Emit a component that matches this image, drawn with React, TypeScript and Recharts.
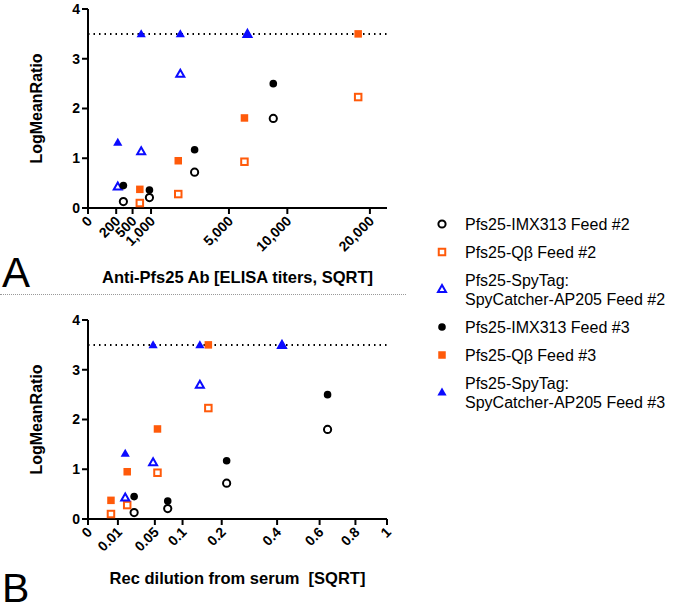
import React from "react";
import { ScatterChart, Scatter, XAxis, YAxis, ReferenceLine } from "recharts";

const FONT = '"Liberation Sans", Arial, sans-serif';
const ORANGE = "#ff5a0a";
const BLUE = "#0b0bff";

// x positions: panel A = ELISA titer, panel B = rec dilution
const imxTiter = [315, 950, 2860, 8640];
const imxDilution = [0.0238, 0.0711, 0.215, 0.642];
const imxFeed2 = [0.13, 0.21, 0.72, 1.8];
const imxFeed3 = [0.45, 0.36, 1.17, 2.5];

const qbTiter = [676, 2050, 6160, 18370];
const qbDilution = [0.0059, 0.0172, 0.054, 0.162];
const qbFeed2 = [0.1, 0.28, 0.93, 2.23];
const qbFeed3 = [0.375, 0.95, 1.81, 3.5];

const spyTiter = [223, 712, 2144, 6400];
const spyDilution = [0.0155, 0.0474, 0.14, 0.421];
const spyFeed2 = [0.43, 1.14, 2.7, 3.5];
const spyFeed3 = [1.32, 3.5, 3.5, 3.5];

const titerTicks = [0, 200, 500, 1000, 5000, 10000, 20000];
const dilutionTicks = [0, 0.01, 0.05, 0.1, 0.2, 0.4, 0.6, 0.8, 1];
const yTicks = [0, 1, 2, 3, 4];

type Kind = "circle" | "square" | "triangle";

interface SeriesDef {
  name: string[];
  kind: Kind;
  filled: boolean;
  color: string;
  titer: number[];
  dilution: number[];
  values: number[];
}

const series: SeriesDef[] = [
  { name: ["Pfs25-IMX313 Feed #2"], kind: "circle", filled: false, color: "#000", titer: imxTiter, dilution: imxDilution, values: imxFeed2 },
  { name: ["Pfs25-Qβ Feed #2"], kind: "square", filled: false, color: ORANGE, titer: qbTiter, dilution: qbDilution, values: qbFeed2 },
  { name: ["Pfs25-SpyTag:", "SpyCatcher-AP205 Feed #2"], kind: "triangle", filled: false, color: BLUE, titer: spyTiter, dilution: spyDilution, values: spyFeed2 },
  { name: ["Pfs25-IMX313 Feed #3"], kind: "circle", filled: true, color: "#000", titer: imxTiter, dilution: imxDilution, values: imxFeed3 },
  { name: ["Pfs25-Qβ Feed #3"], kind: "square", filled: true, color: ORANGE, titer: qbTiter, dilution: qbDilution, values: qbFeed3 },
  { name: ["Pfs25-SpyTag:", "SpyCatcher-AP205 Feed #3"], kind: "triangle", filled: true, color: BLUE, titer: spyTiter, dilution: spyDilution, values: spyFeed3 },
];

function Marker({ cx, cy, kind, filled, color }: { cx: number; cy: number; kind: Kind; filled: boolean; color: string }) {
  const fill = filled ? color : "#fff";
  const sw = filled ? 0 : 2;
  if (kind === "circle") {
    return <circle cx={cx} cy={cy} r={filled ? 3.8 : 3.6} fill={fill} stroke={color} strokeWidth={sw} />;
  }
  if (kind === "square") {
    const s = filled ? 7.5 : 6.5;
    return <rect x={cx - s / 2} y={cy - s / 2} width={s} height={s} fill={fill} stroke={color} strokeWidth={sw} />;
  }
  const h = filled ? 4.6 : 4;
  return (
    <polygon
      points={`${cx},${cy - h} ${cx + h},${cy + h * 0.75} ${cx - h},${cy + h * 0.75}`}
      fill={fill}
      stroke={color}
      strokeWidth={sw}
      strokeLinejoin="miter"
    />
  );
}

function XTick(props: any) {
  const { x, y, payload, fmt } = props;
  const tx = x + 5;
  const ty = y + 8;
  return (
    <text
      x={tx}
      y={ty}
      transform={`rotate(-45 ${tx} ${ty})`}
      textAnchor="end"
      fontSize={14}
      fontWeight="bold"
      fontFamily={FONT}
      fill="#000"
    >
      {fmt(payload.value)}
    </text>
  );
}

function Panel({ mode }: { mode: "titer" | "dilution" }) {
  const isTiter = mode === "titer";
  const fmt = (v: number) => (isTiter ? v.toLocaleString("en-US") : String(v));
  return (
    <ScatterChart width={400} height={300} margin={{ top: 9, right: 13, bottom: 0, left: 0 }}>
      <XAxis
        type="number"
        dataKey="x"
        scale="sqrt"
        domain={isTiter ? [0, 22500] : [0, 1]}
        ticks={isTiter ? titerTicks : dilutionTicks}
        interval={0}
        height={92}
        tickSize={6}
        tickMargin={0}
        axisLine={{ stroke: "#000", strokeWidth: 2 }}
        tickLine={{ stroke: "#000", strokeWidth: 2 }}
        tick={<XTick fmt={fmt} />}
        allowDataOverflow
      />
      <YAxis
        type="number"
        dataKey="y"
        domain={[0, 4]}
        ticks={yTicks}
        width={88}
        tickSize={6}
        tickMargin={2}
        axisLine={{ stroke: "#000", strokeWidth: 2 }}
        tickLine={{ stroke: "#000", strokeWidth: 2 }}
        tick={{ fill: "#000", fontSize: 14, fontWeight: "bold", fontFamily: FONT }}
        label={{
          value: "LogMeanRatio",
          angle: -90,
          position: "insideLeft",
          offset: 36,
          style: { fill: "#000", fontSize: 16, fontWeight: "bold", fontFamily: FONT, textAnchor: "middle" },
        }}
      />
      <ReferenceLine y={3.5} stroke="#000" strokeWidth={2} strokeDasharray="1.5 4" />
      {series.map((s, i) => (
        <Scatter
          key={i}
          name={s.name.join(" ")}
          data={(isTiter ? s.titer : s.dilution).map((x, j) => ({ x, y: s.values[j] }))}
          isAnimationActive={false}
          shape={(p: any) => <Marker cx={p.cx} cy={p.cy} kind={s.kind} filled={s.filled} color={s.color} />}
        />
      ))}
    </ScatterChart>
  );
}

function SeriesLegend({ items, top }: { items: SeriesDef[]; top: number }) {
  const baselines = [18, 46, 74];
  const markerY = [12, 40, 77];
  return (
    <svg width={245} height={110} style={{ position: "absolute", left: 430, top }}>
      {items.map((s, i) => (
        <g key={i}>
          <Marker cx={12} cy={markerY[i]} kind={s.kind} filled={s.filled} color={s.color} />
          {s.name.map((line, k) => (
            <text key={k} x={35} y={baselines[i] + k * 19} fontSize={16} fontFamily={FONT} fill="#000">
              {line}
            </text>
          ))}
        </g>
      ))}
    </svg>
  );
}

export default function App() {
  const titleStyle: React.CSSProperties = {
    position: "absolute",
    left: 88,
    width: 299,
    textAlign: "center",
    fontFamily: FONT,
    fontWeight: "bold",
    fontSize: 16.5,
    whiteSpace: "nowrap",
  };
  const letterStyle: React.CSSProperties = {
    position: "absolute",
    left: 2,
    fontFamily: FONT,
    fontSize: 41,
    lineHeight: "30px",
  };
  return (
    <div style={{ position: "absolute", left: 0, top: 0, width: 675, height: 612, background: "#fff", overflow: "hidden" }}>
      <div style={{ position: "absolute", left: 0, top: 0 }}>
        <Panel mode="titer" />
      </div>
      <div style={{ position: "absolute", left: 0, top: 311 }}>
        <Panel mode="dilution" />
      </div>
      <div style={{ ...titleStyle, top: 268 }}>Anti-Pfs25 Ab [ELISA titers, SQRT]</div>
      <div style={{ ...titleStyle, top: 569 }}>Rec dilution from serum&nbsp;&nbsp;[SQRT]</div>
      <div style={{ ...letterStyle, fontSize: 42, top: 258 }}>A</div>
      <div style={{ ...letterStyle, top: 573 }}>B</div>
      <div style={{ position: "absolute", left: 0, top: 294, width: 406, borderTop: "1px dotted #999" }} />
      <SeriesLegend items={series.slice(0, 3)} top={212} />
      <SeriesLegend items={series.slice(3)} top={315} />
    </div>
  );
}
